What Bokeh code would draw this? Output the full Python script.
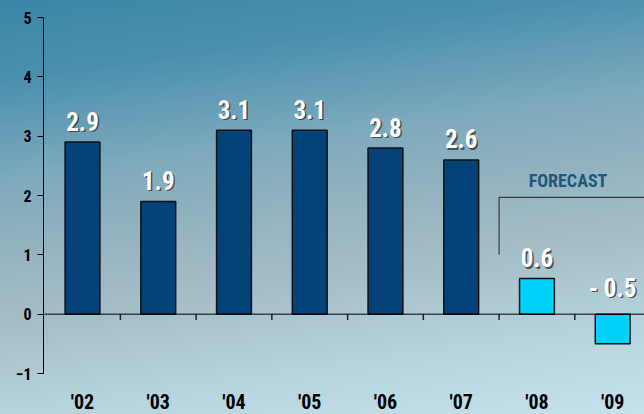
from bokeh.plotting import figure
from bokeh.models import (ColumnDataSource, FixedTicker, Span, Range1d,
                          GlobalInlineStyleSheet)
from bokeh.core.properties import value
from bokeh.embed import file_html
from bokeh.resources import INLINE

# ---- data ----
years = ["'02", "'03", "'04", "'05", "'06", "'07", "'08", "'09"]
growth = [2.9, 1.9, 3.1, 3.1, 2.8, 2.6, 0.6, -0.5]
labels = ["2.9", "1.9", "3.1", "3.1", "2.8", "2.6", "0.6", "- 0.5"]
is_forecast = [False, False, False, False, False, False, True, True]
y_ticks = [-1, 0, 1, 2, 3, 4, 5]
forecast_text = "FORECAST"

NARROW = "'Roboto Condensed', 'Liberation Sans'"
ACTUAL_COLOR = "#03437a"
FORECAST_COLOR = "#00d2fb"

xs = list(range(len(years)))
src = ColumnDataSource(dict(
    x=xs,
    top=growth,
    color=[FORECAST_COLOR if f else ACTUAL_COLOR for f in is_forecast],
    label=labels,
    ly=[max(v, 0) for v in growth],
))

X_MAX = 7.42
p = figure(width=644, height=414, frame_width=601, frame_height=356,
           output_backend="svg", toolbar_location=None,
           x_range=Range1d(-0.515, X_MAX), y_range=Range1d(-1, 5),
           min_border_left=43, min_border_right=0, min_border_top=17,
           min_border_bottom=41)
p.background_fill_color = None
p.border_fill_color = None
p.outline_line_color = None
p.grid.visible = False

css = """
html { height: 100%; overflow: hidden;
       background: linear-gradient(172deg, #3a86a7 0%, #4a90ae 16%,
       #7eaabd 36%, #97b4c0 52%, #a6c0ca 66%, #b6d3de 82%, #c6e3ed 100%); }
body { background: transparent; margin: 0; overflow: hidden; }
"""
p.stylesheets = [GlobalInlineStyleSheet(css=css)]

# bars
p.vbar(x="x", top="top", bottom=0, width=0.46, fill_color="color",
       line_color="#111111", line_width=1.5, source=src)

# zero line + category separator ticks
p.add_layout(Span(location=0, dimension="width", line_color="black", line_width=1))
sep = [i + 0.5 for i in xs[:-1]]
p.segment(x0=sep, y0=[0] * len(sep), x1=sep, y1=[-0.1] * len(sep),
          line_color="#222222", line_width=1.5)

# value labels (shadow + white)
p.text(x="x", y="ly", text="label", source=src, text_align="center",
       text_baseline="bottom", y_offset=-10, x_offset=1.5,
       text_font=value(NARROW), text_font_style="bold",
       text_font_size="25px", text_color="#333333", text_alpha=0.8)
p.text(x="x", y="ly", text="label", source=src, text_align="center",
       text_baseline="bottom", y_offset=-11.5,
       text_font=value(NARROW), text_font_style="bold",
       text_font_size="25px", text_color="white")

# forecast bracket
f_start = is_forecast.index(True) - 0.5
bracket_low, bracket_high = 1.0, 1.97
p.line(x=[f_start, f_start, X_MAX], y=[bracket_low, bracket_high, bracket_high],
       line_color="#3a3a3a", line_width=1.2)
p.text(x=[(f_start + X_MAX) / 2 - 0.05], y=[bracket_high + 0.29], text=[forecast_text],
       text_align="center", text_baseline="middle", text_font=value(NARROW),
       text_font_style="bold", text_font_size="18px", text_color="#1b5a7c")

# y axis
ya = p.yaxis[0]
ya.ticker = FixedTicker(ticks=y_ticks)
ya.axis_line_color = "black"
ya.axis_line_width = 1
ya.major_tick_in = 0
ya.major_tick_out = 6
ya.major_tick_line_color = "black"
ya.minor_tick_line_color = None
ya.major_label_standoff = 6
ya.major_label_text_font = NARROW
ya.major_label_text_font_style = "bold"
ya.major_label_text_font_size = "16px"
ya.major_label_text_color = "black"

# x axis (labels only, at bottom)
xa = p.xaxis[0]
xa.ticker = FixedTicker(ticks=xs)
xa.major_label_overrides = {i: y for i, y in zip(xs, years)}
xa.axis_line_color = None
xa.major_tick_line_color = None
xa.minor_tick_line_color = None
xa.major_tick_out = 0
xa.major_label_standoff = 16
xa.major_label_text_font = NARROW
xa.major_label_text_font_style = "bold"
xa.major_label_text_font_size = "20px"
xa.major_label_text_color = "black"

open("out.html", "w").write(file_html(p, INLINE))
